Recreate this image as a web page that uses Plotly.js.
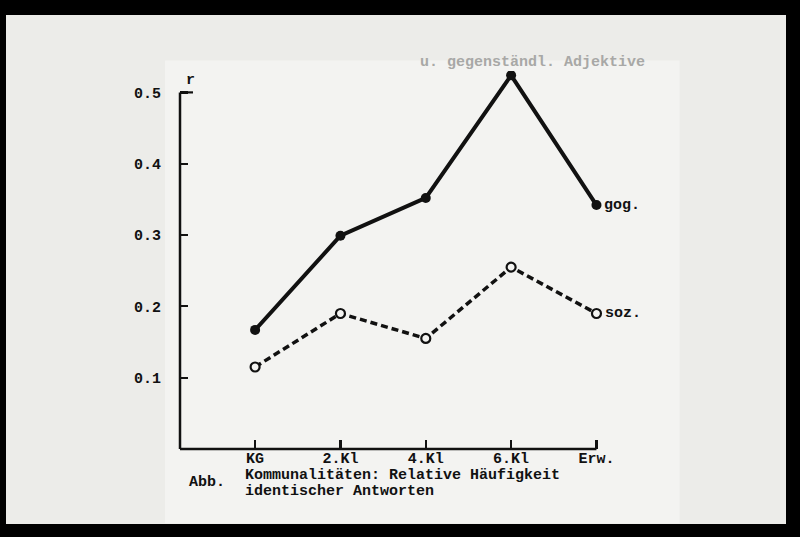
<!DOCTYPE html>
<html>
<head>
<meta charset="utf-8">
<script src="https://cdn.plot.ly/plotly-3.0.1.min.js"></script>
<style>
  html, body { margin: 0; padding: 0; background: #000; width: 800px; height: 537px; overflow: hidden; }
  #chart { position: absolute; left: 6px; top: 15px; width: 780px; height: 509px; }
</style>
</head>
<body>
<div id="chart"></div>
<script>
// ---- data ----
const categories = ["KG", "2.Kl", "4.Kl", "6.Kl", "Erw."];
const gogValues = [0.167, 0.299, 0.352, 0.524, 0.342];
const sozValues = [0.115, 0.190, 0.155, 0.255, 0.190];
const yTickValues = [0.1, 0.2, 0.3, 0.4, 0.5];
const yTickLabels = ["0.1", "0.2", "0.3", "0.4", "0.5"];
const gogLabel = "gog.";
const sozLabel = "soz.";
const yAxisLabel = "r";
const captionPrefix = "Abb.";
const captionLine1 = "Kommunalitäten: Relative Häufigkeit";
const captionLine2 = "identischer Antworten";
const fadedHeader = "u. gegenständl. Adjektive";

const FONT = "Liberation Mono, DejaVu Sans Mono, monospace";
const ink = "#111111";

// plot-area frame in page pixels (for placing free text)
const FR = { left: 180, right: 605.3, top: 70.5, bottom: 449.5 };
const px = x => (x - FR.left) / (FR.right - FR.left);
const py = y => (FR.bottom - y) / (FR.bottom - FR.top);
const txt = (t, x, y, color) => ({
  x: px(x), y: py(y), xref: "paper", yref: "paper", text: t,
  showarrow: false, xanchor: "left", yanchor: "middle",
  font: { family: FONT, size: 15, color: color || ink, weight: "bold" }
});

const traces = [
  {
    x: categories, y: gogValues, type: "scatter", mode: "lines+markers",
    line: { color: ink, width: 4 },
    marker: { color: ink, size: 10, line: { color: ink, width: 0 } },
    hoverinfo: "skip", showlegend: false
  },
  {
    x: categories, y: sozValues, type: "scatter", mode: "lines+markers",
    line: { color: ink, width: 3.5, dash: "7px,4px" },
    marker: { color: "#f4f4f2", size: 9, line: { color: ink, width: 2.2 } },
    hoverinfo: "skip", showlegend: false
  }
];

const last = categories.length - 1;
const yTop = yTickValues[yTickValues.length - 1];
const layout = {
  width: 780, height: 509,
  margin: { l: 174, r: 180.7, t: 55.5, b: 74.5 },
  paper_bgcolor: "#ecece9",
  plot_bgcolor: "rgba(0,0,0,0)",
  font: { family: FONT, size: 15, color: ink, weight: "bold" },
  showlegend: false,
  xaxis: {
    type: "category",
    range: [-0.88, 4.1],
    showline: false,
    showgrid: false, zeroline: false,
    ticks: "inside", ticklen: 9, tickwidth: 2.2, tickcolor: ink,
    tickfont: { family: FONT, size: 15, color: ink, weight: "bold" },
    ticklabelstandoff: -2,
    fixedrange: true
  },
  yaxis: {
    range: [0, 0.53],
    tickvals: yTickValues, ticktext: yTickLabels,
    showline: false,
    showgrid: false, zeroline: false,
    ticks: "inside", ticklen: 8, tickwidth: 2.2, tickcolor: ink,
    tickfont: { family: FONT, size: 15, color: ink, weight: "bold" },
    ticklabelstandoff: 18,
    fixedrange: true
  },
  shapes: [
    { type: "rect", xref: "paper", yref: "paper", layer: "below",
      x0: px(165), x1: px(680), y0: py(524), y1: py(60),
      fillcolor: "#f3f3f1", line: { width: 0 } },
    { type: "line", xref: "paper", yref: "y", layer: "above",
      x0: 0, x1: 0, y0: 0, y1: yTop,
      line: { color: ink, width: 2.5 } },
    { type: "line", xref: "paper", yref: "y", layer: "above",
      x0: 0, x1: px(193), y0: yTop, y1: yTop,
      line: { color: ink, width: 2.2 } },
    { type: "line", xref: "x", yref: "paper", layer: "above",
      x0: -0.88, x1: last, y0: 0, y1: 0,
      line: { color: ink, width: 2.5 } }
  ],
  annotations: [
    Object.assign(txt(yAxisLabel, 191, 80), { xanchor: "center" }),
    { x: categories[last], y: gogValues[last], xref: "x", yref: "y", text: gogLabel,
      showarrow: false, xanchor: "left", yanchor: "middle", xshift: 6,
      font: { family: FONT, size: 15, color: ink, weight: "bold" } },
    { x: categories[last], y: sozValues[last], xref: "x", yref: "y", text: sozLabel,
      showarrow: false, xanchor: "left", yanchor: "middle", xshift: 7,
      font: { family: FONT, size: 15, color: ink, weight: "bold" } },
    txt(captionPrefix, 187, 483),
    txt(captionLine1, 243, 476),
    txt(captionLine2, 243, 492),
    txt(fadedHeader, 418, 62, "#a8a8a6")
  ]
};

Plotly.newPlot("chart", traces, layout, { displayModeBar: false, staticPlot: true });
</script>
</body>
</html>
